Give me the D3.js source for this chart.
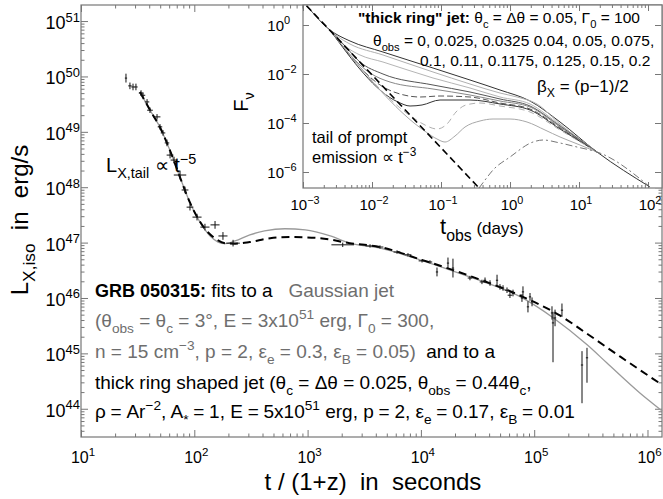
<!DOCTYPE html>
<html>
<head>
<meta charset="UTF-8">
<script src="https://d3js.org/d3.v7.min.js"></script>
<style>
  html, body { margin: 0; padding: 0; background: #fff; }
  svg { display: block; font-family: "Liberation Sans", Arial, Helvetica, sans-serif; }
  text { white-space: pre; }
</style>
</head>
<body>
<svg width="663" height="499"></svg>
<script>
// ---- main panel data (log10 values) ----
const obsLogT = [1.397, 1.432, 1.459, 1.485, 1.530, 1.547, 1.583, 1.609, 1.671, 1.697, 1.724, 1.759, 1.786, 1.821, 1.874, 1.918, 1.962, 2.024, 2.094, 2.183, 2.253, 2.342,
  3.31, 3.551, 3.639, 3.789, 3.886, 4.010, 4.080, 4.142, 4.239, 4.283, 4.433, 4.539, 4.566, 4.610, 4.672, 4.698, 4.725, 4.760, 4.786, 4.813,
  4.892, 4.901, 4.963, 4.981, 4.945, 5.157, 5.166, 5.184, 5.245, 5.422, 5.466];
const obsLogL = [49.97, 49.83, 49.81, 49.81, 49.70, 49.66, 49.54, 49.39, 49.27, 49.09, 48.98, 48.80, 48.58, 48.49, 48.22, 47.95, 47.64, 47.46, 47.28, 47.32, 47.12, 46.99,
  46.96, 46.94, 46.92, 46.83, 46.78, 46.67, 46.65, 46.47, 46.63, 46.54, 46.36, 46.29, 46.32, 46.27, 46.32, 46.20, 46.18, 46.14, 46.05, 46.09,
  46.00, 46.11, 46.02, 45.93, 45.84, 45.73, 45.55, 45.64, 45.78, 44.79, 44.92];
const obsDT = [0.01, 0.015, 0.015, 0.015, 0.02, 0.02, 0.02, 0.025, 0.03, 0.02, 0.02, 0.02, 0.03, 0.03, 0.055, 0.03, 0.03, 0.04, 0.04, 0.04, 0.04, 0.06,
  0.10, 0.04, 0.03, 0.03, 0.03, 0.03, 0.02, 0.01, 0.01, 0.01, 0.02, 0.02, 0.01, 0.01, 0.01, 0.01, 0.01, 0.02, 0.02, 0.01,
  0.01, 0.01, 0.01, 0.01, 0.01, 0.01, 0.01, 0.01, 0.01, 0.01, 0.01];
const obsDn = [0.08, 0.06, 0.06, 0.06, 0.05, 0.05, 0.05, 0.05, 0.05, 0.05, 0.05, 0.06, 0.06, 0.06, 0.08, 0.06, 0.06, 0.06, 0.06, 0.07, 0.07, 0.06,
  0.04, 0.03, 0.03, 0.03, 0.03, 0.03, 0.03, 0.08, 0.10, 0.17, 0.04, 0.04, 0.05, 0.05, 0.10, 0.05, 0.05, 0.05, 0.05, 0.06,
  0.07, 0.10, 0.07, 0.08, 0.10, 0.12, 0.71, 0.15, 0.12, 0.69, 0.45];
const obsUp = [0.08, 0.06, 0.06, 0.06, 0.05, 0.05, 0.05, 0.05, 0.05, 0.05, 0.05, 0.06, 0.06, 0.06, 0.08, 0.06, 0.06, 0.06, 0.06, 0.07, 0.07, 0.06,
  0.04, 0.03, 0.03, 0.03, 0.03, 0.03, 0.03, 0.08, 0.10, 0.17, 0.04, 0.04, 0.05, 0.05, 0.10, 0.05, 0.05, 0.05, 0.05, 0.06,
  0.07, 0.10, 0.07, 0.08, 0.10, 0.12, 0.20, 0.15, 0.12, 0.25, 0.18];

// Gaussian jet fit (grey solid)
const gaussLogT = [1.52, 1.61, 1.70, 1.79, 1.87, 1.96, 2.05, 2.14, 2.21, 2.27, 2.36, 2.49, 2.62, 2.80, 2.98, 3.20, 3.37, 3.64, 3.99, 4.43, 4.88, 5.17, 5.47, 5.64, 5.93, 6.13];
const gaussLogL = [49.72, 49.39, 49.07, 48.64, 48.20, 47.73, 47.37, 47.12, 47.01, 46.98, 47.03, 47.14, 47.21, 47.25, 47.23, 47.12, 46.99, 46.90, 46.69, 46.38, 46.02, 45.64, 45.15, 44.83, 44.29, 43.96];
// thick ring jet fit (black dashed)
const ringLogT = [1.52, 1.61, 1.70, 1.79, 1.87, 1.96, 2.09, 2.18, 2.27, 2.36, 2.49, 2.67, 2.85, 3.11, 3.37, 3.64, 3.99, 4.43, 4.88, 5.23, 5.47, 5.76, 6.13];
const ringLogL = [49.72, 49.39, 49.07, 48.64, 48.20, 47.73, 47.26, 47.08, 46.99, 46.98, 47.01, 47.08, 47.10, 47.08, 46.99, 46.92, 46.70, 46.40, 46.04, 45.68, 45.35, 44.94, 44.43];

// ---- inset data: log10 t_obs (days), log10 F_nu ----
const promptT = [-2.95, -0.449];
const promptF = [0.792, -6.65];
const c1T = [-2.942, -2.609, -2.319, -1.841, -1.116, -0.580, -0.145, 0.290, 0.725, 1.261, 2.029];
const c1F = [0.776, -0.204, -0.653, -1.102, -1.755, -2.245, -2.653, -3.102, -3.959, -5.184, -6.612];
const c2T = [-2.609, -2.507, -2.319, -1.841, -1.116, -0.580, -0.145, 0.101, 0.391, 0.725, 1.261];
const c2F = [-0.204, -0.449, -0.776, -1.224, -1.918, -2.408, -2.776, -2.939, -3.224, -4.041, -5.184];
const c3T = [-2.609, -2.391, -2.174, -1.841, -1.116, -0.580, -0.145, 0.290, 0.725, 1.261];
const c3F = [-0.204, -0.857, -1.224, -1.510, -2.163, -2.571, -2.939, -3.224, -4.082, -5.184];
const c4T = [-2.609, -2.391, -2.174, -1.841, -1.116, -0.580, -0.145, 0.290, 0.725, 1.261];
const c4F = [-0.204, -0.857, -1.510, -2.000, -2.449, -2.735, -3.020, -3.306, -4.122, -5.184];
const c5T = [-2.609, -2.029, -1.739, -1.116, -0.580, -0.145, 0.290, 0.725, 1.261];
const c5F = [-0.204, -1.959, -2.327, -2.612, -2.857, -3.102, -3.347, -4.163, -5.184];
const c6T = [-2.609, -1.812, -1.594, -1.304, -1.014, -0.580, -0.145, 0.290, 0.725, 1.261];
const c6F = [-0.204, -2.571, -2.816, -2.939, -2.898, -2.939, -3.184, -3.429, -4.204, -5.184];
const c7T = [-2.609, -1.623, -1.449, -1.275, -1.014, -0.580, -0.145, 0.290, 0.725, 1.261];
const c7F = [-0.204, -3.143, -3.306, -3.265, -3.061, -3.061, -3.224, -3.469, -4.245, -5.184];
const c8T = [-2.609, -1.420, -1.232, -1.058, -0.913, -0.783, -0.638, -0.435, -0.145, 0.290, 0.725, 1.261];
const c8F = [-0.204, -3.755, -4.082, -4.245, -4.041, -3.551, -3.265, -3.184, -3.306, -3.551, -4.286, -5.184];
const c9T = [-2.609, -1.217, -1.058, -0.942, -0.797, -0.652, -0.435, -0.246, 0.0, 0.246, 0.507, 0.725, 1.014, 1.261];
const c9F = [-0.204, -4.367, -4.653, -4.776, -4.531, -4.163, -3.918, -3.837, -3.837, -3.959, -4.286, -4.571, -4.898, -5.184];
const c10T = [-0.449, -0.362, -0.246, 0.0, 0.333, 0.478, 0.725, 0.971, 1.159, 1.261, 2.029];
const c10F = [-6.653, -6.327, -5.918, -5.388, -4.776, -4.694, -4.816, -4.980, -5.102, -5.184, -6.612];

// tick decades
const mainXDec = [1, 2, 3, 4, 5, 6];
const mainYDec = [44, 45, 46, 47, 48, 49, 50, 51];
const insetXDec = [-3, -2, -1, 0, 1, 2];
const insetYDec = [0, -2, -4, -6];

const svg = d3.select("svg");
const frameCol = "#777";
const greyTxt = "#6e6e6e";

// scales
const x = d3.scaleLog().domain([10, 10 ** 6.128]).range([81, 662]);
const y = d3.scaleLog().domain([10 ** 43.49, 10 ** 51.29]).range([437, 5]);
const xi = d3.scaleLog().domain([1e-3, 10 ** 2.188]).range([303, 661]);
const yi = d3.scaleLog().domain([10 ** -6.653, 10 ** 0.776]).range([188, 6]);

const p10 = v => Math.pow(10, v);

function minorVals(scale) {
  const [a, b] = scale.domain();
  const out = [];
  for (let e = Math.floor(Math.log10(a)); e <= Math.ceil(Math.log10(b)); e++)
    for (let m = 2; m <= 9; m++) {
      const v = m * p10(e);
      if (v > a && v < b) out.push(v);
    }
  return out;
}

// rich text with sub/superscripts
function rich(parent, x0, y0, size, parts, opt = {}) {
  const t = parent.append("text")
    .attr("x", x0).attr("y", y0)
    .attr("font-size", size)
    .attr("text-anchor", opt.anchor || "start")
    .attr("fill", opt.fill || "#000");
  if (opt.transform) t.attr("transform", opt.transform);
  let shift = 0;
  parts.forEach(p => {
    if (typeof p === "string") p = { t: p };
    let target = 0, fs = p.fs || size;
    if (p.sub) { target = size * 0.3; fs = size * 0.72; }
    if (p.sup) { target = -size * 0.42; fs = size * 0.72; }
    const s = t.append("tspan").attr("dy", (target - shift).toFixed(2)).attr("font-size", fs).text(p.t);
    if (p.b) s.attr("font-weight", "bold");
    if (p.c) s.attr("fill", p.c);
    shift = target;
  });
  return t;
}

function tickAxis(g, axisFn, scale, vals, size, tx, ty) {
  g.append("g")
    .attr("transform", `translate(${tx},${ty})`)
    .call(axisFn(scale).tickValues(vals).tickSize(size).tickSizeOuter(0).tickFormat(""))
    .call(a => a.select(".domain").remove())
    .call(a => a.selectAll("line").attr("stroke", frameCol));
}

// ---------------- main panel ----------------
const main = svg.append("g");
const mX = mainXDec.map(p10), mY = mainYDec.map(p10);
tickAxis(main, d3.axisBottom, x, mX, -7, 0, 437);
tickAxis(main, d3.axisBottom, x, minorVals(x), -3.5, 0, 437);
tickAxis(main, d3.axisTop, x, mX, -7, 0, 5);
tickAxis(main, d3.axisTop, x, minorVals(x), -3.5, 0, 5);
tickAxis(main, d3.axisLeft, y, mY, -7, 81, 0);
tickAxis(main, d3.axisLeft, y, minorVals(y), -3.5, 81, 0);
tickAxis(main, d3.axisRight, y, mY, -7, 662, 0);
tickAxis(main, d3.axisRight, y, minorVals(y), -3.5, 662, 0);
main.append("rect").attr("x", 81).attr("y", 5).attr("width", 581).attr("height", 432)
  .attr("fill", "none").attr("stroke", frameCol).attr("stroke-width", 1.2);

mainXDec.forEach(e => rich(main, x(p10(e)) + 2, 463, 16, ["10", { t: String(e), sup: 1 }], { anchor: "middle" }));
mainYDec.forEach(e => rich(main, 80, y(p10(e)) + 8, 18, ["10", { t: String(e), sup: 1 }], { anchor: "end" }));

const line = d3.line().x(d => x(p10(d[0]))).y(d => y(p10(d[1]))).curve(d3.curveMonotoneX);
main.append("path").attr("d", line(d3.zip(gaussLogT, gaussLogL)))
  .attr("fill", "none").attr("stroke", "#9a9a9a").attr("stroke-width", 1.3);
main.append("path").attr("d", line(d3.zip(ringLogT, ringLogL)))
  .attr("fill", "none").attr("stroke", "#000").attr("stroke-width", 2).attr("stroke-dasharray", "8,5");

const pts = main.append("g").attr("stroke", "#111").attr("stroke-width", 1);
obsLogT.forEach((t, i) => {
  const L = obsLogL[i];
  pts.append("line").attr("x1", x(p10(t - obsDT[i]))).attr("x2", x(p10(t + obsDT[i])))
    .attr("y1", y(p10(L))).attr("y2", y(p10(L)));
  pts.append("line").attr("x1", x(p10(t))).attr("x2", x(p10(t)))
    .attr("y1", y(p10(L - obsDn[i]))).attr("y2", y(p10(L + obsUp[i])));
});

// axis titles
rich(main, 0, 0, 24, ["L", { t: "X,iso", sub: 1 }, "  in  erg/s"],
  { anchor: "middle", transform: "translate(28,220) rotate(-90)" });
rich(main, 373, 490, 24, ["t / (1+z)  in  seconds"], { anchor: "middle" });

rich(main, 106, 172, 20, ["L", { t: "X,tail", sub: 1 }, " \u221D t", { t: "\u22125", sup: 1 }]);

// text block
const tb = main.append("g");
const fsB = 19;
const sp = "\u2005";
rich(tb, 95, 297, fsB, [{ t: "GRB 050315:", b: 1, fs: 18 }, " fits to a   ", { t: "Gaussian jet", c: greyTxt }]);
rich(tb, 95, 327, fsB, ["(\u03B8", { t: "obs", sub: 1 }, " = \u03B8", { t: "c", sub: 1 }, " = 3\u00B0, E = 3x10", { t: "51", sup: 1 },
  " erg, \u0393", { t: "0", sub: 1 }, " = 300,"], { fill: greyTxt });
rich(tb, 95, 358, fsB, [{ t: "n = 15 cm", c: greyTxt }, { t: "\u22123", sup: 1, c: greyTxt }, { t: ", p = 2, \u03B5", c: greyTxt },
  { t: "e", sub: 1, c: greyTxt }, { t: " = 0.3, \u03B5", c: greyTxt }, { t: "B", sub: 1, c: greyTxt }, { t: " = 0.05)", c: greyTxt }, "  and to a"]);
rich(tb, 95, 389, fsB, ["thick ring shaped jet (\u03B8", { t: "c", sub: 1 }, " = \u0394\u03B8 = 0.025, \u03B8", { t: "obs", sub: 1 },
  " = 0.44\u03B8", { t: "c", sub: 1 }, ","]);
rich(tb, 95, 418, fsB, [`\u03C1${sp}=${sp}Ar`, { t: "\u22122", sup: 1 }, ", A", { t: "*", sub: 1 }, `${sp}=${sp}1, E${sp}=${sp}5x10`, { t: "51", sup: 1 },
  ` erg, p${sp}=${sp}2, \u03B5`, { t: "e", sub: 1 }, `${sp}=${sp}0.17, \u03B5`, { t: "B", sub: 1 }, `${sp}=${sp}0.01`]);

// ---------------- inset ----------------
const ins = svg.append("g");
ins.append("rect").attr("x", 303).attr("y", 5).attr("width", 359).attr("height", 183).attr("fill", "#fff");

const iX = insetXDec.map(p10), iY = insetYDec.map(p10);
tickAxis(ins, d3.axisBottom, xi, iX, -6, 0, 188);
tickAxis(ins, d3.axisBottom, xi, minorVals(xi), -3, 0, 188);
tickAxis(ins, d3.axisTop, xi, iX, -6, 0, 5);
tickAxis(ins, d3.axisTop, xi, minorVals(xi), -3, 0, 5);
tickAxis(ins, d3.axisLeft, yi, iY, -6, 303, 0);
tickAxis(ins, d3.axisRight, yi, iY, -6, 661, 0);

const iline = d3.line().x(d => xi(p10(d[0]))).y(d => yi(p10(d[1]))).curve(d3.curveMonotoneX);
const insetCurves = [
  [c1T, c1F, "#333", null],
  [c2T, c2F, "#b0b0b0", null],
  [c3T, c3F, "#b5b5b5", null],
  [c4T, c4F, "#555", null],
  [c5T, c5F, "#888", null],
  [c6T, c6F, "#555", "6,3"],
  [c7T, c7F, "#333", null],
  [c8T, c8F, "#b0b0b0", "6,4"],
  [c9T, c9F, "#a8a8a8", null],
  [c10T, c10F, "#777", "7,3,2,3"]
];
ins.append("clipPath").attr("id", "insclip").append("rect").attr("x", 303).attr("y", 5).attr("width", 358).attr("height", 183);
const cg = ins.append("g").attr("clip-path", "url(#insclip)");
insetCurves.forEach(([T, F, col, dash]) => {
  const p = cg.append("path").attr("d", iline(d3.zip(T, F)))
    .attr("fill", "none").attr("stroke", col).attr("stroke-width", 1);
  if (dash) p.attr("stroke-dasharray", dash);
});
cg.append("path").attr("d", d3.line().x(d => xi(p10(d[0]))).y(d => yi(p10(d[1])))(d3.zip(promptT, promptF)))
  .attr("fill", "none").attr("stroke", "#000").attr("stroke-width", 1.6).attr("stroke-dasharray", "7,4");

ins.append("rect").attr("x", 303).attr("y", 5).attr("width", 359).attr("height", 183)
  .attr("fill", "none").attr("stroke", frameCol).attr("stroke-width", 1.2);

insetXDec.forEach(e => rich(ins, xi(p10(e)) + 2, 210, 15, ["10", { t: e < 0 ? "\u2212" + (-e) : String(e), sup: 1 }], { anchor: "middle" }));
insetYDec.forEach(e => {
  rich(ins, 284, yi(p10(e)) + 6, 15, ["10"], { anchor: "end" });
  rich(ins, 284, yi(p10(e)) - 1, 11, [e < 0 ? "\u2212" + (-e) : String(e)]);
});

rich(ins, 0, 0, 20, ["F", { t: "\u03BD", sub: 1 }], { anchor: "middle", transform: "translate(248,102) rotate(-90)" });
rich(ins, 440, 234, 22, ["t", { t: "obs", sub: 1 }, { t: " (days)", fs: 17 }]);

rich(ins, 358, 23, 15.5, [{ t: "\"thick ring\" jet:", b: 1 }, " \u03B8", { t: "c", sub: 1 }, " = \u0394\u03B8 = 0.05, \u0393", { t: "0", sub: 1 }, " = 100"]);
rich(ins, 373, 46, 15.5, ["\u03B8", { t: "obs", sub: 1 }, " = 0, 0.025, 0.0325 0.04, 0.05, 0.075,"]);
rich(ins, 420, 66, 15.5, ["0.1, 0.11, 0.1175, 0.125, 0.15, 0.2"]);
rich(ins, 537, 92, 17, ["\u03B2", { t: "X", sub: 1 }, " = (p\u22121)/2"]);
rich(ins, 312, 143, 16.5, ["tail of prompt"]);
rich(ins, 312, 163, 16.5, ["emission \u221D t", { t: "\u22123", sup: 1 }]);
</script>
</body>
</html>
